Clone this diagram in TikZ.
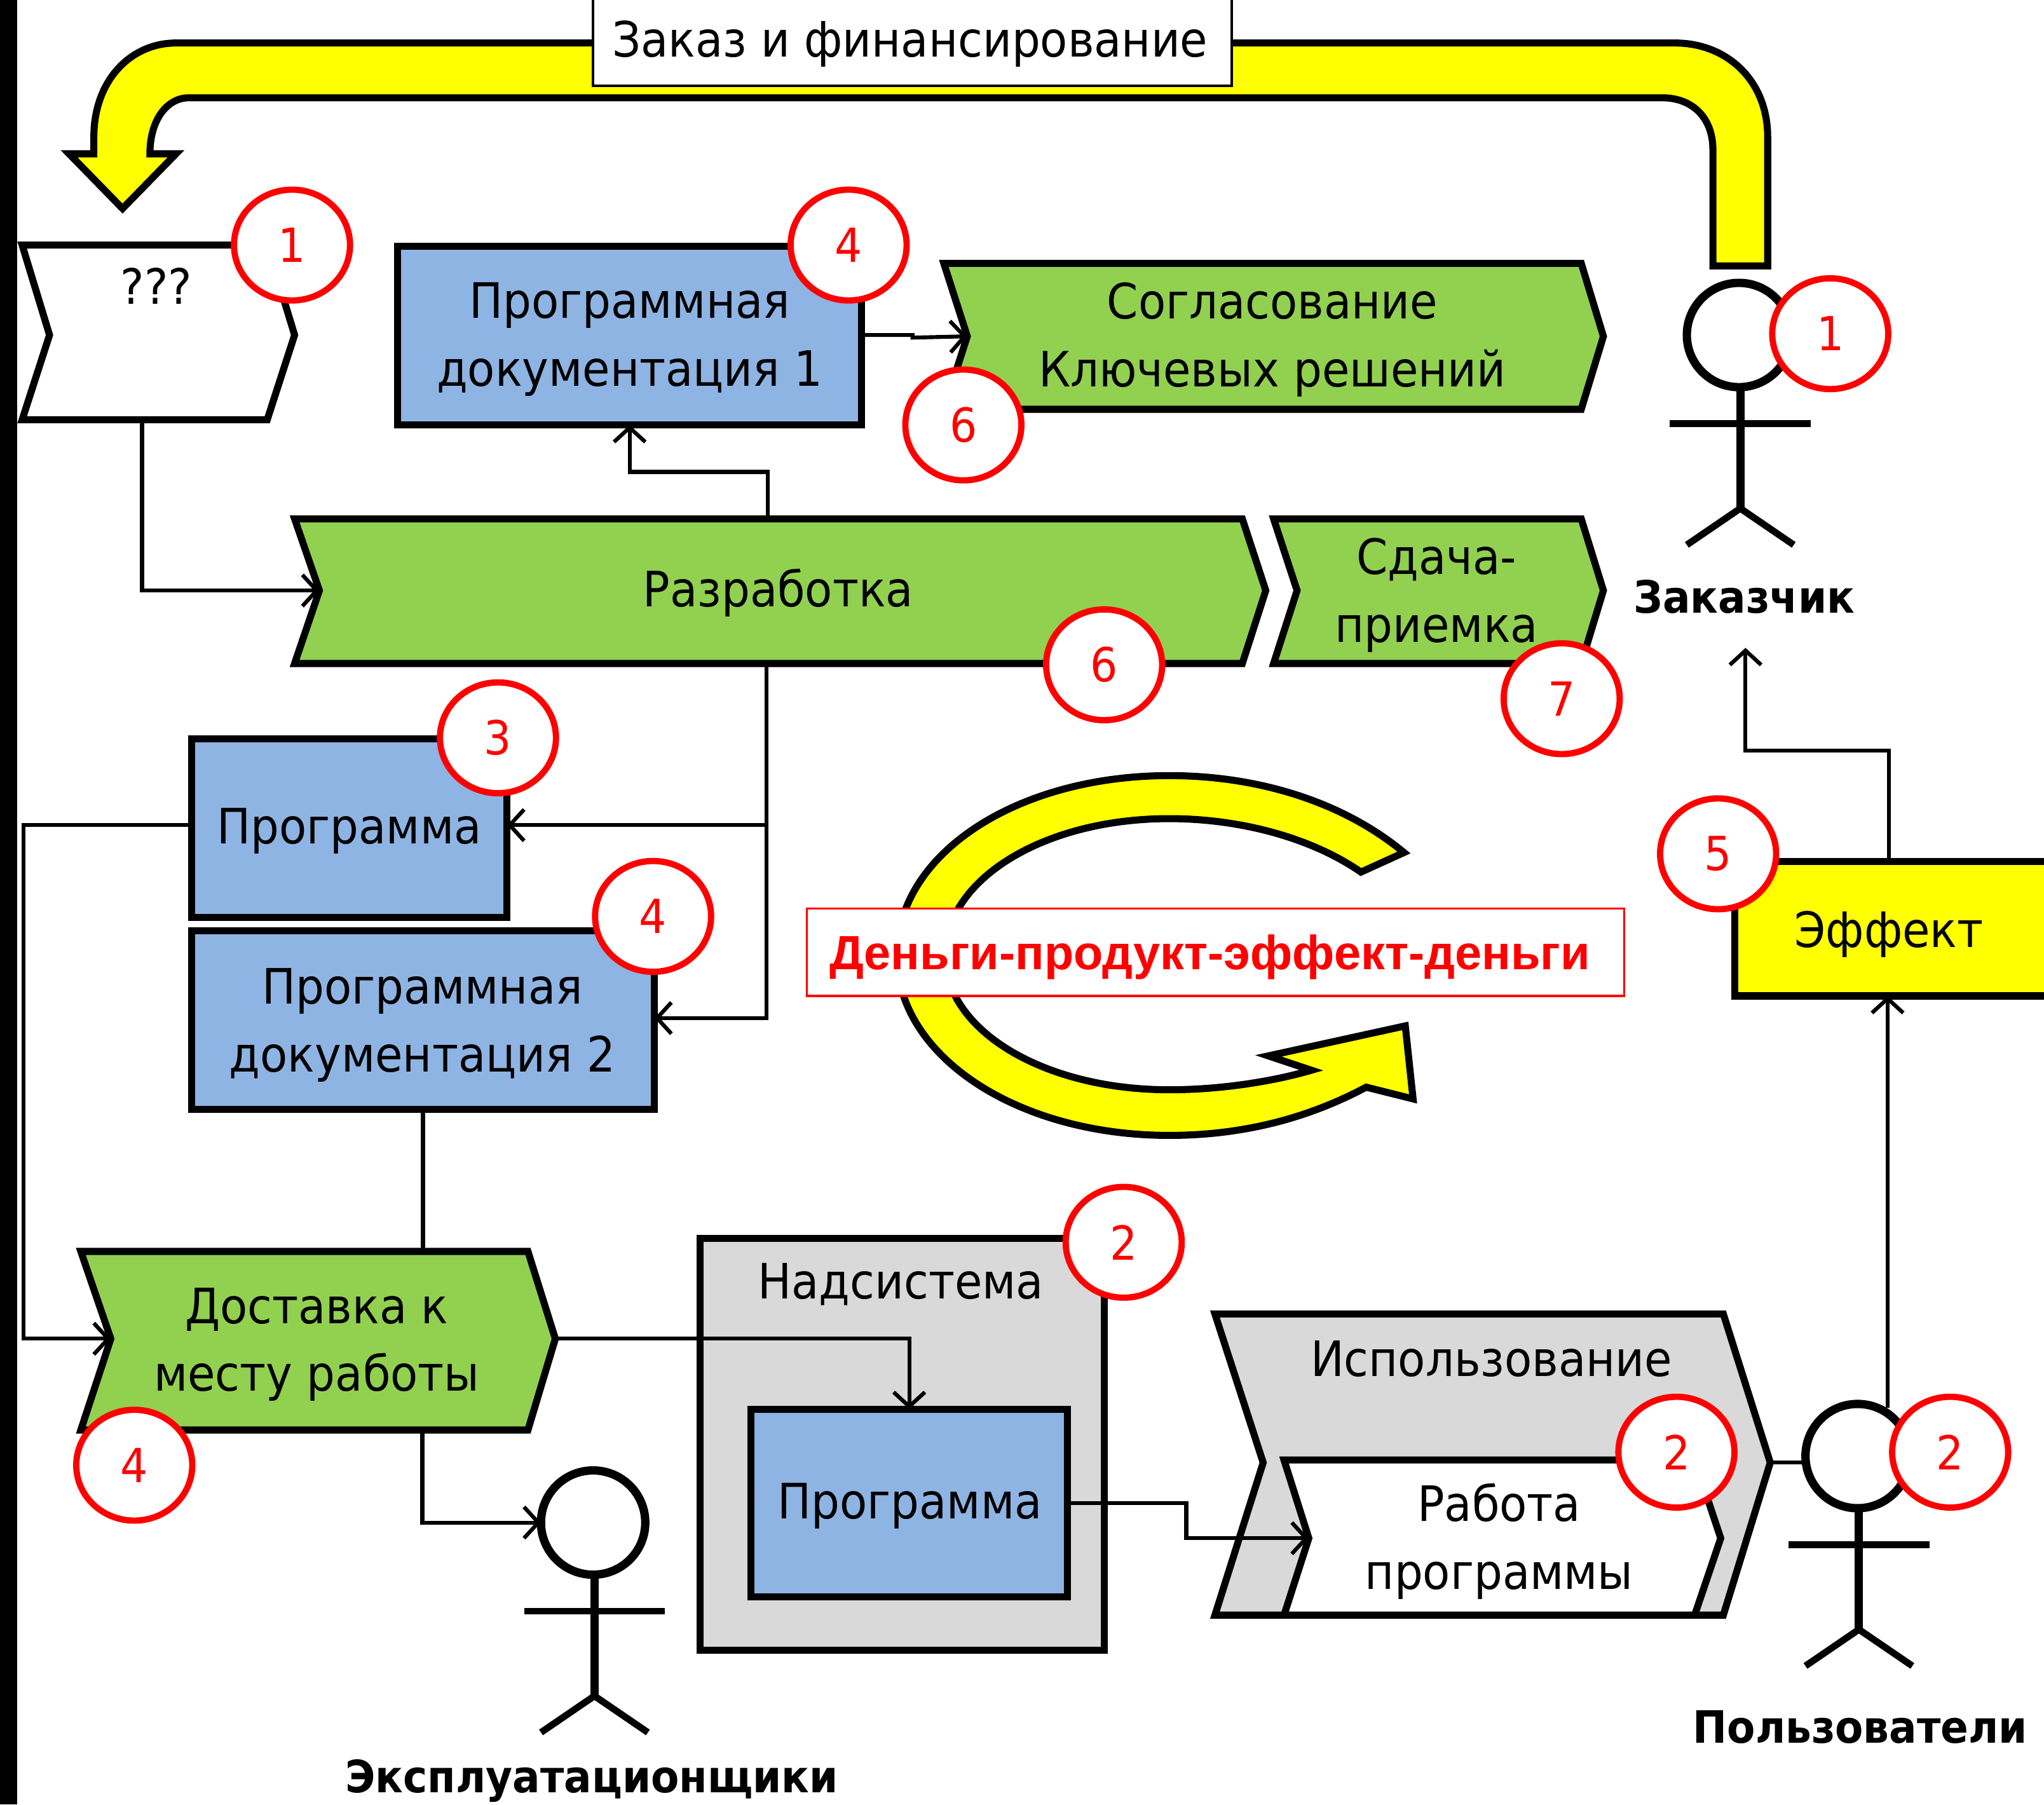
\documentclass[tikz,border=0pt]{standalone}
\usepackage{fontspec}
\setmainfont[FakeStretch=0.92]{DejaVu Sans}
\newfontfamily\lbfont{Liberation Sans}
\usetikzlibrary{arrows.meta,shapes.geometric}
\definecolor{cblue}{HTML}{8EB4E3}
\definecolor{cgreen}{HTML}{92D050}
\definecolor{cgrey}{HTML}{D9D9D9}
\definecolor{cyel}{HTML}{FFFF00}
\tikzset{
  txt/.style={font=\fontsize{18.7}{26}\selectfont,align=center,inner sep=0pt,text=black,yshift=-1.25pt},
  bold/.style={font=\fontsize{17.1}{22}\selectfont\bfseries,inner sep=0pt},
  shapeline/.style={draw=black,line width=2.7pt,line join=miter},
  chev/.style={shapeline},
  rectn/.style={shapeline,rectangle,inner sep=0pt,outer sep=0pt},
  conn/.style={draw=black,line width=1.5pt},
  arr/.style={conn,-{Straight Barb[length=5.5pt,width=12pt,line width=1.5pt]}},
  badge/.style={ellipse,draw=red,line width=2.4pt,fill=white,minimum width=44.5pt,minimum height=42.5pt,inner sep=0pt,text=red,font=\fontsize{18}{20}\selectfont},
  actorline/.style={draw=black,line width=2.6pt},
  actorbody/.style={draw=black,line width=3.2pt},
  bigarrow/.style={draw=black,line width=2.7pt,fill=cyel,line join=miter},
}
\newcommand\boxn[6]{\node[rectn,#6,minimum width={(#4-#2)*0.5pt},minimum height={(#5-#3)*0.5pt}] (#1) at ({(#2+#4)/2},{(#3+#5)/2}) {}}
\newcommand\actor[3]{%
  \draw[actorbody,fill=white] (#2,#3) circle[radius=40];
  \coordinate (#1-head) at (#2,#3);
  \draw[actorbody] (#2+1,#3+40) -- (#2+1,#3+133);
  \draw[actorline] (#2-53,#3+68) -- (#2+55,#3+68);
  \draw[actorline] (#2-40,#3+161) -- (#2+1,#3+133) -- (#2+42,#3+161);
}
\begin{document}
\begin{tikzpicture}[x=0.5pt,y=-0.5pt]
\useasboundingbox (0,0) rectangle (1568,1384.2);
\fill[black] (0,0) rectangle (13,1384.2);

% top arrow
\draw[bigarrow] (1314,204) -- (1314,115) .. controls (1314,90) and (1298,75) .. (1275,75)
  -- (145,75) .. controls (128,75) and (115,92) .. (115,118) -- (135,118) -- (94,160) -- (53,118) -- (72,118)
  -- (72,105) .. controls (72,62) and (100,33) .. (135,33) -- (1285,33)
  .. controls (1325,33) and (1356,62) .. (1356,105) -- (1356,204) -- cycle;
\boxn{orderbox}{455}{-4}{945}{66}{line width=1pt,fill=white};
\node[txt] (order) at (698,31) {Заказ и финансирование};

% processes
\draw[chev,fill=white] (17,188) -- (205,188) -- (226,257) -- (205,322) -- (17,322) -- (38,257) -- cycle;
\node[txt] (q) at (120,217) {???};
\coordinate (q-s) at (109,322);
\boxn{pd1}{305}{189}{661}{326}{fill=cblue};
\node[txt] (pd1t) at (483,258) {Программная\\документация 1};
\draw[chev,fill=cgreen] (724,202) -- (1213,202) -- (1230,258) -- (1213,314) -- (724,314) -- (742,258) coordinate (agr-w) -- cycle;
\node[txt] (agr) at (976,258) {Согласование\\Ключевых решений};
\draw[chev,fill=cgreen] (226,398) -- (953,398) -- (971,453) -- (953,509) -- (226,509) -- (245,453) coordinate (dev-w) -- cycle;
\node[txt] (dev) at (597,452) {Разработка};
\coordinate (dev-n) at (589,398);
\coordinate (dev-s) at (588,509);
\draw[chev,fill=cgreen] (977,398) -- (1213,398) -- (1230,453) -- (1213,509) -- (977,509) -- (995,453) -- cycle;
\node[txt] (acc) at (1102,454) {Сдача-\\приемка};
\boxn{prog}{147}{567}{389}{704}{fill=cblue};
\node[txt] (progt) at (268,635) {Программа};
\boxn{pd2}{147}{714}{502}{851}{fill=cblue};
\node[txt] (pd2t) at (324,784) {Программная\\документация 2};
\draw[chev,fill=cgreen] (62,960) -- (405,960) -- (426,1027) coordinate (del-e) -- (405,1097) -- (62,1097) -- (85,1027) coordinate (del-w) -- cycle;
\node[txt] (del) at (243,1029) {Доставка к\\месту работы};
\boxn{sys}{537}{950}{847}{1266}{fill=cgrey};
\node[txt] (syst) at (691,983) {Надсистема};
\boxn{prog2}{576}{1081}{819}{1225}{fill=cblue};
\node[txt] (prog2t) at (698,1153) {Программа};
\draw[chev,fill=cgrey] (932,1008) -- (1322,1008) -- (1358,1122) coordinate (use-e) -- (1322,1239) -- (932,1239) -- (969,1122) -- cycle;
\node[txt] (use) at (1144,1040) {Использование};
\draw[chev,fill=white] (985,1120) -- (1300,1120) -- (1320,1180) -- (1300,1239) -- (985,1239) -- (1004,1180) coordinate (run-w) -- cycle;
\node[txt] (run) at (1150,1180) {Работа\\программы};
\boxn{eff}{1331}{661}{1572}{764}{fill=cyel};
\node[txt] (efft) at (1449,714) {Эффект};

% actors
\actor{cust}{1334}{257}
\node[bold] (custl) at (1338,458) {Заказчик};
\actor{usr}{1425}{1117}
\node[bold] (usrl) at (1427,1325) {Пользователи};
\actor{ops}{455}{1168}
\node[bold] (opsl) at (454,1366) {Эксплуатационщики};

% connectors
\draw[arr] (q-s) |- (dev-w);
\draw[arr] (pd1.east |- 0,257) -- (700,257) -- (700,259) -- (agr-w);
\draw[arr] (dev-n) -- (589,362) -- (pd1.south |- 0,362) -- (pd1.south);
\draw[arr] (dev-s) |- (pd2.east |- 0,781);
\draw[arr] (dev-s |- 0,633) -- (prog.east |- 0,633);
\draw[arr] (prog.west |- 0,633) -- (18,633) |- (del-w);
\draw[conn] (pd2.south) -- (pd2.south |- 0,960);
\draw[arr] (del-e) -| (prog2.north);
\draw[arr] (324,1097) |- (415,1168);
\draw[arr] (prog2.east) -- (910,1153) -- (910,1180) -- (run-w);
\draw[conn] (use-e) -- (1385,1122);
\draw[arr] (1448,1080) -- (eff.south -| 1448,0);
\draw[arr] (eff.north -| 1449,0) -- (1449,576) -- (1339,576) -- (1339,497);

% cycle arrow
\draw[bigarrow] (1077,654) .. controls (1030,615) and (965,595) .. (897,595)
  .. controls (780,595) and (688,655) .. (688,733) .. controls (688,810) and (780,871) .. (897,871)
  .. controls (955,871) and (1005,857) .. (1048,834) -- (1084,843) -- (1078,787) -- (973,810) -- (1006,821)
  .. controls (975,830) and (935,836) .. (897,836) .. controls (800,836) and (725,790) .. (725,733)
  .. controls (725,675) and (800,628) .. (897,628) .. controls (950,628) and (1005,642) .. (1044,669) -- cycle;
\boxn{slogbox}{619}{697}{1246}{764}{draw=red,line width=0.8pt,fill=white};
\node[inner sep=0pt,text=red,font=\lbfont\fontsize{18.45}{22}\selectfont\bfseries] (slog) at (928,734) {Деньги-продукт-эффект-деньги};

% badges
\node[badge] (b1) at (224,188) {1};
\node[badge] (b2) at (651,188) {4};
\node[badge] (b3) at (739,326) {6};
\node[badge] (b4) at (1404,256) {1};
\node[badge] (b5) at (847,510) {6};
\node[badge] (b6) at (1198,536) {7};
\node[badge] (b7) at (382,566) {3};
\node[badge] (b8) at (501,703) {4};
\node[badge] (b9) at (1318,655) {5};
\node[badge] (b10) at (862,953) {2};
\node[badge] (b11) at (1286,1114) {2};
\node[badge] (b12) at (1496,1114) {2};
\node[badge] (b13) at (103,1124) {4};
\end{tikzpicture}
\end{document}
